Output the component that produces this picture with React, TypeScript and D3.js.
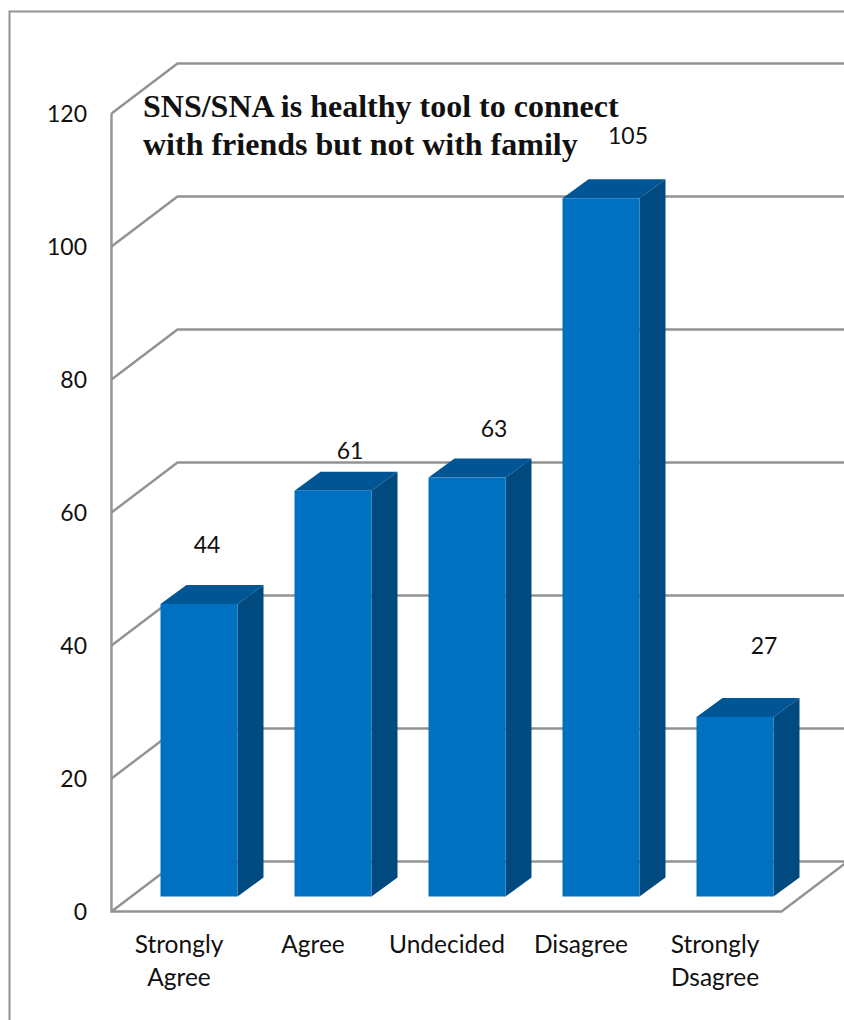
import React from "react";
import * as d3 from "d3";

const categories: string[][] = [["Strongly", "Agree"], ["Agree"], ["Undecided"], ["Disagree"], ["Strongly", "Dsagree"]];
const values = [44, 61, 63, 105, 27];
const yTicks = [0, 20, 40, 60, 80, 100, 120];
const titleLines = ["SNS/SNA is healthy tool to connect", "with friends but not with family"];
const valueLabelPositions = [
  { x: 207, y: 545 },
  { x: 350, y: 451 },
  { x: 494, y: 429 },
  { x: 628, y: 136 },
  { x: 764, y: 646 },
];

const W = 844;
const H = 1020;
const GRID = "#929292";
const SANS = "Lato, Carlito, 'Open Sans', sans-serif";

// Oblique projection of the chart box: depth of the walls and of the bars
const wallDx = 66;
const wallDy = -50;
const barDx = 26;
const barDy = -19;

const yFront = d3.scaleLinear().domain([0, 120]).range([911.5, 113.5]);
const barBaseY = 896.5;
const barHeightPerUnit = (911 - 113) / 120;
const xBand = d3.scaleBand<number>().domain(d3.range(5)).range([111.5, 781.5]);
const barOffset = 49;
const barWidth = 77;

const poly = (pts: [number, number][]) => d3.line()(pts) + "Z";

export default function App() {
  return (
    <svg
      width={W}
      height={H}
      viewBox={`0 0 ${W} ${H}`}
      style={{ position: "fixed", left: 0, top: 0, background: "#fff", display: "block" }}
    >
      <rect x={9.5} y={11.5} width={W + 20} height={H + 20} fill="#fff" stroke={GRID} strokeWidth={2} />

      {/* back-wall gridlines with their slanted side-wall segments */}
      <g fill="none" stroke={GRID} strokeWidth={2.4}>
        {yTicks.map((t) => (
          <path
            key={t}
            d={d3.line()([
              [111.5, yFront(t)],
              [111.5 + wallDx, yFront(t) + wallDy],
              [W + 10, yFront(t) + wallDy],
            ]) as string}
          />
        ))}
        <path d={d3.line()([[111.5, yFront(120)], [111.5, yFront(0)], [781.5, yFront(0)], [781.5 + wallDx, yFront(0) + wallDy]]) as string} />
      </g>

      {/* value bars drawn as three visible prism faces */}
      {values.map((v, i) => {
        const x0 = (xBand(i) as number) + barOffset;
        const x1 = x0 + barWidth;
        const top = barBaseY - v * barHeightPerUnit;
        return (
          <g key={i}>
            <path d={poly([[x0, top], [x0 + barDx, top + barDy], [x1 + barDx, top + barDy], [x1, top]])} fill="#005594" />
            <path d={poly([[x1, top], [x1 + barDx, top + barDy], [x1 + barDx, barBaseY + barDy], [x1, barBaseY]])} fill="#004a80" />
            <rect x={x0} y={top} width={barWidth} height={barBaseY - top} fill="#0070c0" />
          </g>
        );
      })}

      <g fontFamily={SANS} fontSize={23} fill="#111">
        {yTicks.map((t) => (
          <text key={t} x={87} y={yFront(t)} dy="0.36em" textAnchor="end">
            {t}
          </text>
        ))}
        {values.map((v, i) => (
          <text key={i} x={valueLabelPositions[i].x} y={valueLabelPositions[i].y} dy="0.36em" textAnchor="middle">
            {v}
          </text>
        ))}
      </g>

      <g fontFamily={SANS} fontSize={24.5} fill="#111">
        {categories.map((lines, i) => (
          <text key={i} textAnchor="middle">
            {lines.map((l, j) => (
              <tspan key={j} x={(xBand(i) as number) + xBand.bandwidth() / 2 + 0.5} y={953 + j * 33}>
                {l}
              </tspan>
            ))}
          </text>
        ))}
      </g>

      <g fontFamily="'Liberation Serif', serif" fontWeight="bold" fontSize={32} fill="#111">
        {titleLines.map((l, i) => (
          <text key={i} x={143} y={117 + i * 38}>
            {l}
          </text>
        ))}
      </g>
    </svg>
  );
}
